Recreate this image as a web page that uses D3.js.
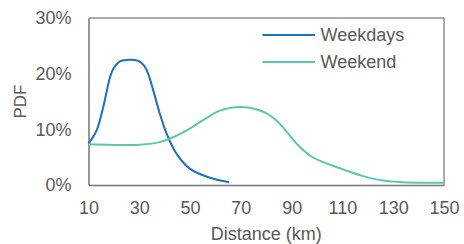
<!DOCTYPE html>
<html>
<head>
<meta charset="utf-8">
<script src="https://cdn.jsdelivr.net/npm/d3@7"></script>
<style>
  body { margin: 0; background: #fff; }
  text { font-family: 'Liberation Sans', Arial, sans-serif; fill: #595959; }
</style>
</head>
<body>
<div id="chart"></div>
<script>
const weekdaysKm = [10, 13.2, 15.8, 18.5, 19.8, 22.4, 26.3, 29.6, 31.8, 33.5, 35.5, 38.1, 40.8, 44.7, 50, 57.8, 65.4]
const weekdaysPdf = [7.4, 9.8, 14, 19.4, 20.9, 22.2, 22.5, 22.3, 21.5, 20, 17, 12.8, 9.2, 5.6, 2.9, 1.3, 0.5]

const weekendKm = [10, 20, 29, 38, 42, 48.7, 55, 62, 70, 76, 80, 84, 88, 92, 97.2, 102.4, 110.3, 118.2, 126, 134, 150]
const weekendPdf = [7.3, 7.2, 7.2, 7.7, 8.3, 9.8, 11.6, 13.4, 14, 13.6, 12.9, 11.6, 9.6, 7.4, 5.3, 4.1, 2.8, 1.6, 0.8, 0.5, 0.4]

const xTicks = [10, 30, 50, 70, 90, 110, 130, 150]
const yTicks = [0, 10, 20, 30]
const seriesNames = ['Weekdays', 'Weekend']
const colors = ['#1f6fba', '#5cc6b0']

const margin = { top: 18, left: 88.5, right: 20, bottom: 59 }
const width = 464 - margin.left - margin.right
const height = 244 - margin.top - margin.bottom

const svg = d3
  .select('#chart')
  .append('svg')
  .attr('width', 464)
  .attr('height', 244)
  .append('g')
  .attr('transform', 'translate(' + margin.left + ',' + margin.top + ')')

const x = d3.scaleLinear().domain([10, 150]).range([0, width])
const y = d3.scaleLinear().domain([0, 30]).range([height, 0])

// frame (top + right)
svg.append('path')
  .attr('d', `M0,0H${width}V${height}`)
  .attr('fill', 'none')
  .attr('stroke', '#595959')
  .attr('stroke-width', 1)

// axes
const xAxis = svg.append('g')
  .attr('transform', `translate(0,${height})`)
  .call(d3.axisBottom(x).tickValues(xTicks).tickSize(0).tickPadding(16))
xAxis.select('.domain').attr('stroke', '#757575').attr('stroke-width', 1.5)
xAxis.selectAll('text').style('font-size', '18px').attr('fill', '#595959')

const yAxis = svg.append('g')
  .call(d3.axisLeft(y).tickValues(yTicks).tickSize(0).tickPadding(17).tickFormat(d => d + '%'))
yAxis.select('.domain').attr('stroke', '#757575').attr('stroke-width', 1.5)
yAxis.selectAll('text').style('font-size', '18px').attr('fill', '#595959')

// lines
const line = d3.line()
  .x(d => x(d[0]))
  .y(d => y(d[1]))
  .curve(d3.curveCatmullRom.alpha(0.5))

const series = [
  d3.zip(weekdaysKm, weekdaysPdf),
  d3.zip(weekendKm, weekendPdf)
]

svg.selectAll('.series')
  .data(series)
  .enter()
  .append('path')
  .attr('class', 'series')
  .attr('d', line)
  .attr('fill', 'none')
  .attr('stroke', (d, i) => colors[i])
  .attr('stroke-width', 2)

// axis titles
svg.append('text')
  .text('Distance (km)')
  .attr('x', width / 2)
  .attr('y', height + 55)
  .attr('text-anchor', 'middle')
  .style('font-size', '18px')

svg.append('text')
  .text('PDF')
  .attr('transform', `translate(-62.5,${height / 2}) rotate(-90)`)
  .attr('text-anchor', 'middle')
  .style('font-size', '17px')

// legend
const legend = svg.append('g').attr('transform', 'translate(174, 17)')

legend
  .selectAll('.legend')
  .data(seriesNames)
  .enter()
  .append('g')
  .attr('class', 'legend')
  .attr('transform', (d, i) => `translate(0,${i * 27})`)
  .each(function(d, i) {
    const g = d3.select(this)
    g.append('line')
      .attr('x1', 0)
      .attr('x2', 52.5)
      .attr('stroke', colors[i])
      .attr('stroke-width', 2)
    g.append('text')
      .text(d)
      .attr('x', 58)
      .attr('dy', '0.35em')
      .style('font-size', '18px')
  })
</script>
</body>
</html>
